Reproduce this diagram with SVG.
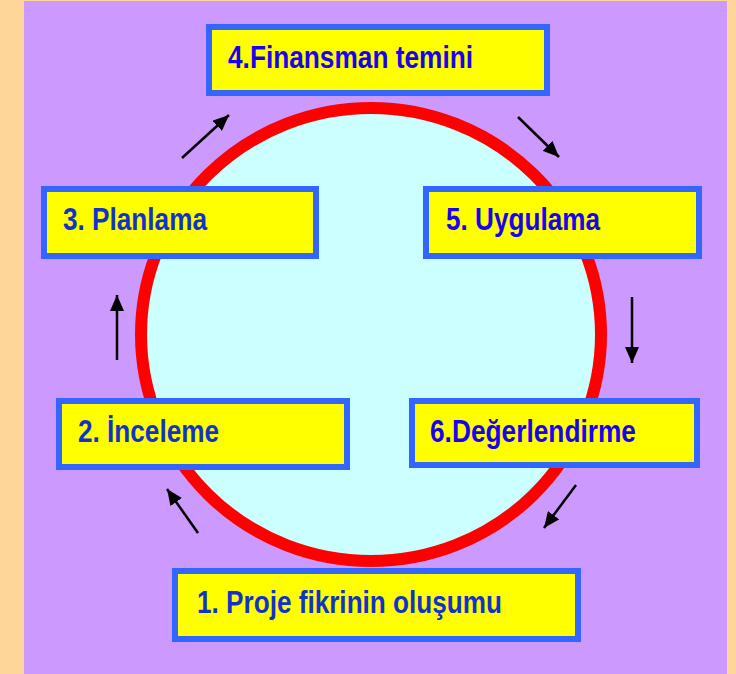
<svg xmlns="http://www.w3.org/2000/svg" width="736" height="674" viewBox="0 0 736 674">
<defs>
<marker id="ah" viewBox="0 0 16 14" refX="16" refY="7" markerWidth="16" markerHeight="14" markerUnits="userSpaceOnUse" orient="auto">
<path d="M0,0 L16,7 L0,14 Z" fill="#000"/>
</marker>
<style>
.box{fill:#FFFF00;stroke:#3366FF;stroke-width:6}
.t{font-family:"Liberation Sans Narrow","Liberation Sans",Arial,sans-serif;font-weight:bold;font-size:31px;fill:#1133CC}
.tb{fill:#1A00F0}
.c{stroke:#000;stroke-width:2.5;fill:none;marker-end:url(#ah)}
</style>
</defs>
<rect x="0" y="0" width="736" height="674" fill="#FFD699"/>
<rect x="24" y="1" width="703" height="673" fill="#CC99FF"/>
<ellipse id="circle" cx="371" cy="334.5" rx="230" ry="226.5" fill="#CCFFFF" stroke="#FF0000" stroke-width="12"/>
<g id="connectors">
<line class="c" x1="117" y1="360" x2="117" y2="295"/>
<line class="c" x1="182" y1="158" x2="229" y2="115"/>
<line class="c" x1="518" y1="117" x2="559" y2="157"/>
<line class="c" x1="632" y1="297" x2="632" y2="363"/>
<line class="c" x1="576" y1="485" x2="544" y2="528"/>
<line class="c" x1="198" y1="533" x2="167" y2="489"/>
</g>
<g id="n4">
<rect class="box" x="209" y="27" width="338" height="66"/>
<text class="t tb" x="228" y="68" textLength="245" lengthAdjust="spacingAndGlyphs">4.Finansman temini</text>
</g>
<g id="n3">
<rect class="box" x="44" y="189" width="272" height="67"/>
<text class="t" x="63" y="230" textLength="144" lengthAdjust="spacingAndGlyphs">3. Planlama</text>
</g>
<g id="n5">
<rect class="box" x="426" y="189" width="273" height="67"/>
<text class="t tb" x="446" y="230" textLength="154" lengthAdjust="spacingAndGlyphs">5. Uygulama</text>
</g>
<g id="n2">
<rect class="box" x="59" y="401" width="288" height="66"/>
<text class="t" x="78" y="442" textLength="141" lengthAdjust="spacingAndGlyphs">2. İnceleme</text>
</g>
<g id="n6">
<rect class="box" x="412" y="401" width="285" height="64"/>
<text class="t tb" x="430" y="442" textLength="206" lengthAdjust="spacingAndGlyphs">6.Değerlendirme</text>
</g>
<g id="n1">
<rect class="box" x="175" y="571" width="403" height="68"/>
<text class="t" x="197" y="613" textLength="305" lengthAdjust="spacingAndGlyphs">1. Proje fikrinin oluşumu</text>
</g>
</svg>
